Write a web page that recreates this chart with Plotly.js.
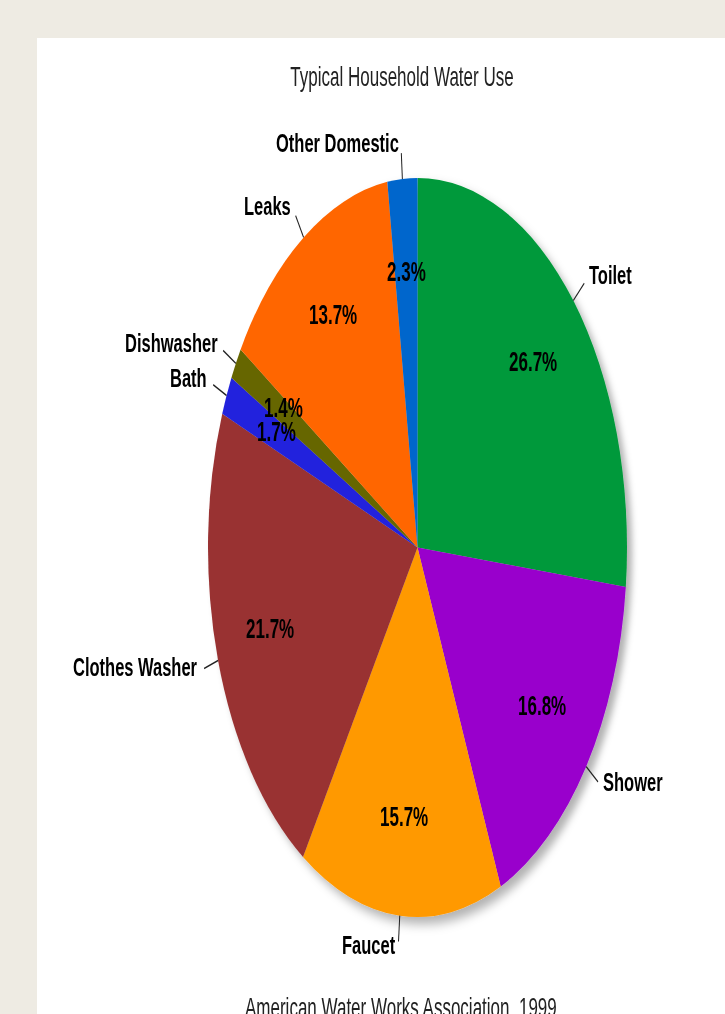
<!DOCTYPE html>
<html>
<head>
<meta charset="utf-8">
<script src="https://cdn.plot.ly/plotly-3.0.1.min.js"></script>
<style>
  html, body { margin: 0; padding: 0; background: #eeebe3; overflow: hidden; width: 725px; height: 1014px; }
  #chart { width: 725px; height: 642px; transform: scaleY(1.57944); transform-origin: 0 0; }
</style>
</head>
<body>
<div id="chart"></div>
<script>
// ---- data ----
const labels = ['Toilet', 'Shower', 'Faucet', 'Clothes Washer', 'Bath', 'Dishwasher', 'Leaks', 'Other Domestic'];
const values = [26.7, 16.8, 15.7, 21.7, 1.7, 1.4, 13.7, 2.3];
const colors = ['#05993a', '#9900cc', '#ff9900', '#993333', '#2222dd', '#666600', '#ff6600', '#0066cc'];
const titleText = 'Typical Household Water Use';
const sourceText = 'American Water Works Association, 1999';

// ---- geometry (final picture pixels) ----
const W = 725, H = 1014, H0 = 642, K = H / H0;   // CSS vertical stretch
const cx = 417.5, cyF = 547.5, rx = 209.5, ry = 369.5;
const cy0 = cyF / K;                               // pie centre before CSS stretch
const pieScale = (ry / K) / rx;                    // extra vertical stretch of the pie layer
const FONT = 'Liberation Sans, Arial, Helvetica, sans-serif';

const px = x => x / W;
const py = y => 1 - y / H;
function pt(theta, f) {
  return [cx + f * rx * Math.sin(theta), cyF - f * ry * Math.cos(theta)];
}

const total = values.reduce((a, b) => a + b, 0);
let cum = 0;
const annotations = [];
const shapes = [{
  type: 'rect', xref: 'paper', yref: 'paper', layer: 'below',
  x0: px(37), x1: 1, y0: 0, y1: py(38),
  fillcolor: '#ffffff', line: { width: 0 }
}];

values.forEach((v, i) => {
  const mid = (cum + v / 2) / total * 2 * Math.PI;
  cum += v;
  // percentage inside
  const [tx, ty] = pt(mid, 0.74);
  annotations.push({
    xref: 'paper', yref: 'paper', x: px(tx), y: py(ty),
    xanchor: 'center', yanchor: 'middle', showarrow: false, yshift: 1.5,
    text: v.toFixed(1) + '%',
    font: { family: FONT, size: 17, color: '#000', weight: 'bold' }
  });
  // leader line
  const [x0, y0] = pt(mid, 1.0);
  const [x1, y1] = pt(mid, 1.07);
  shapes.push({
    type: 'line', xref: 'paper', yref: 'paper', layer: 'above',
    x0: px(x0), y0: py(y0), x1: px(x1), y1: py(y1),
    line: { color: '#222', width: 1 }
  });
  // outside label
  const [lx, ly] = pt(mid, 1.09);
  const right = Math.sin(mid) > 0;
  annotations.push({
    xref: 'paper', yref: 'paper', x: px(lx), y: py(ly),
    xanchor: right ? 'left' : 'right', yanchor: 'middle', showarrow: false, yshift: 2.5,
    text: labels[i],
    font: { family: FONT, size: 16.5, color: '#000', weight: 'bold' }
  });
});

annotations.push({
  xref: 'paper', yref: 'paper', x: px(401.5), y: py(1008),
  xanchor: 'center', yanchor: 'middle', showarrow: false,
  text: sourceText,
  font: { family: FONT, size: 17, color: '#222' }
});

const data = [{
  type: 'pie',
  labels: labels,
  values: values,
  sort: false,
  direction: 'clockwise',
  rotation: 0,
  textinfo: 'none',
  hoverinfo: 'none',
  automargin: false,
  showlegend: false,
  marker: { colors: colors, line: { width: 0 } },
  domain: {
    x: [(cx - rx) / W, (cx + rx) / W],
    y: [((H0 - cy0) - rx) / H0, ((H0 - cy0) + rx) / H0]
  }
}];

const layout = {
  width: W, height: H0,
  margin: { l: 0, r: 0, t: 0, b: 0 },
  paper_bgcolor: '#eeebe3',
  plot_bgcolor: 'rgba(0,0,0,0)',
  showlegend: false,
  title: {
    text: titleText,
    x: px(402), y: py(77), xref: 'paper', yref: 'paper',
    xanchor: 'center', yanchor: 'middle',
    font: { family: FONT, size: 17, color: '#222' }
  },
  shapes: shapes,
  annotations: annotations
};

Plotly.newPlot('chart', data, layout, { staticPlot: true, displayModeBar: false }).then(gd => {
  const ns = 'http://www.w3.org/2000/svg';
  const svg = gd.querySelector('svg.main-svg');
  let defs = svg.querySelector('defs');
  if (!defs) { defs = document.createElementNS(ns, 'defs'); svg.insertBefore(defs, svg.firstChild); }
  const filter = document.createElementNS(ns, 'filter');
  filter.setAttribute('id', 'pieShadow');
  filter.setAttribute('x', '-10%'); filter.setAttribute('y', '-10%');
  filter.setAttribute('width', '130%'); filter.setAttribute('height', '130%');
  const fe = document.createElementNS(ns, 'feDropShadow');
  fe.setAttribute('dx', '5'); fe.setAttribute('dy', '4');
  fe.setAttribute('stdDeviation', '3');
  fe.setAttribute('flood-color', '#000'); fe.setAttribute('flood-opacity', '0.3');
  filter.appendChild(fe);
  defs.appendChild(filter);
  const pl = svg.querySelector('.pielayer');
  if (pl) {
    pl.setAttribute('transform', `translate(0 ${cy0}) scale(1 ${pieScale}) translate(0 ${-cy0})`);
    pl.setAttribute('filter', 'url(#pieShadow)');
  }
});
</script>
</body>
</html>
